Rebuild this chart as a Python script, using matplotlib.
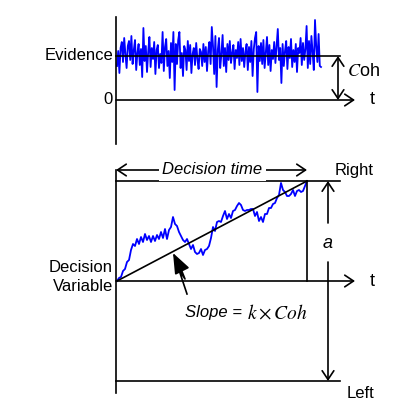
import matplotlib.pyplot as plt
import numpy as np

plt.rcParams['font.family'] = ['Liberation Sans', 'DejaVu Sans']
plt.rcParams['mathtext.fontset'] = 'stix'

# top panel: momentary evidence = coherence level + noise (arbitrary units)
coh = 44
evidence_dt = 1.2
evidence_noise = [
    -10, 5, -17, 8, 14, -6, 18, 2, -12, 10,
    15, -4, 20, -8, 6, 16, -14, 3, 12, -9,
    7, -21, 28, -5, 10, -16, 4, 19, -11, 8,
    -3, 14, -18, 6, 11, -12, 2, -7, 24, -15,
    9, 17, -10, 5, -22, 13, -6, 24, -34, 12,
    -8, 16, 24, -12, 3, -20, 10, 6, -14, 15,
    -5, 11, -17, 2, 8, -9, 13, -3, -13, 7,
    4, -10, 12, -6, 9, -15, 5, 14, -8, 29,
    10, -18, 20, -31, 6, 18, -12, 2, 21, -10,
    8, -16, 12, -4, 15, -7, 3, 11, -13, 6,
    -2, 14, -9, 17, -5, 8, -11, 4, 12, -14,
    9, -6, 15, -20, 7, 18, 24, -36, 10, -5,
    13, -8, 16, -12, 4, 19, -9, 11, -15, 6,
    -3, 14, -7, 10, 27, -4, 8, -27, 12, -10,
    5, 15, -13, 9, -2, 17, -11, 6, -6, 12,
    -16, 8, 3, 18, -9, 13, -4, 7, 30, -12,
    15, -8, 20, 4, -14, 36, 10, -6, 22, -10,
    -11,
]

# bottom panel: accumulated decision variable, bound a = 100
bound = 100
decision_time = 190
dv_dt = 2
decision_var = [
    0, 3, 4, 10, 12, 19, 21, 31, 37, 35,
    42, 37, 44, 39, 47, 41, 45, 39, 45, 40,
    46, 42, 49, 43, 52, 42, 51, 54, 64, 57,
    55, 49, 45, 41, 39, 42, 37, 32, 36, 29,
    27, 28, 32, 26, 31, 32, 35, 43, 54, 50,
    59, 60, 59, 65, 70, 62, 67, 63, 70, 71,
    75, 78, 76, 71, 70, 71, 71, 72, 72, 65,
    69, 60, 64, 59, 67, 67, 73, 73, 77, 78,
    83, 86, 98, 91, 89, 85, 85, 87, 91, 85,
    90, 91, 89, 90, 95, 100,
]

BLUE = '#0000ff'
LW = 1.2
fs = 12


def arrow(ax, start, end, style='->'):
    ax.annotate('', xy=end, xytext=start,
                arrowprops=dict(arrowstyle=style + ',head_length=0.45,head_width=0.3',
                                mutation_scale=14, lw=LW, color='k',
                                shrinkA=0, shrinkB=0))


fig = plt.figure(figsize=(4.2, 4.2), dpi=100)

# ---- top panel
ax1 = fig.add_axes([0, 270 / 420, 1, 150 / 420])
ax1.set_xlim(-117, 303)
ax1.set_ylim(-50, 100)
ax1.axis('off')

t_ev = np.arange(len(evidence_noise)) * evidence_dt
ax1.plot(t_ev, coh + np.array(evidence_noise), color=BLUE, lw=1.3, zorder=2)
ax1.plot([-1, -1], [-44, 83], color='k', lw=LW, zorder=3)
ax1.plot([-1, 223], [coh, coh], color='k', lw=LW, zorder=3)
arrow(ax1, (-1, 0), (238, 0))
arrow(ax1, (221, 0), (221, coh), '<->')
ax1.text(-4, coh, 'Evidence', ha='right', va='center', fontsize=fs)
ax1.text(-4, 0, '0', ha='right', va='center', fontsize=fs)
ax1.text(255, 0, 't', ha='center', va='center', fontsize=fs + 1)
ax1.text(230, 28, r'$C$oh', ha='left', va='center', fontsize=fs + 1)

# ---- bottom panel
ax2 = fig.add_axes([0, 0, 1, 270 / 420])
ax2.set_xlim(-117, 303)
ax2.set_ylim(-139, 131)
ax2.axis('off')

t_dv = np.arange(len(decision_var)) * dv_dt
ax2.plot(t_dv, decision_var, color=BLUE, lw=1.3, zorder=2)
ax2.plot([0, decision_time], [0, bound], color='k', lw=LW, zorder=3)

ax2.plot([-1, -1], [-112, 111], color='k', lw=LW)
ax2.plot([-1, 223], [bound, bound], color='k', lw=LW)
ax2.plot([-1, 223], [-bound, -bound], color='k', lw=LW)
ax2.plot([decision_time, decision_time], [0, bound], color='k', lw=LW)
arrow(ax2, (-1, 0), (238, 0))
ax2.text(255, 0, 't', ha='center', va='center', fontsize=fs + 1)

# decision time
arrow(ax2, (-1, 111), (decision_time, 111), '<->')
ax2.text(95.5, 111, 'Decision time', ha='center', va='center', fontsize=fs,
         fontstyle='italic', bbox=dict(boxstyle='square,pad=0.2', fc='white', ec='none'))

# bound height a
arrow(ax2, (211, 58), (211, bound))
arrow(ax2, (211, 19), (211, -bound))
ax2.text(211, 37, 'a', ha='center', va='center', fontsize=fs + 1, fontstyle='italic')

ax2.text(218, 111, 'Right', ha='left', va='center', fontsize=fs)
ax2.text(230, -112, 'Left', ha='left', va='center', fontsize=fs)
ax2.text(-4, 4, 'Decision\nVariable', ha='right', va='center', fontsize=fs,
         linespacing=1.35)

# slope annotation
ax2.plot([70, 62, 68, 60], [-13, 11, 2, 22], color='k', lw=LW)
ax2.annotate('', xy=(56, 28), xytext=(62, 16),
             arrowprops=dict(arrowstyle='-|>,head_length=0.9,head_width=0.35',
                             mutation_scale=14, lw=LW, color='k',
                             shrinkA=0, shrinkB=0))
ax2.text(68, -32, 'Slope = ', ha='left', va='center', fontsize=fs, fontstyle='italic')
ax2.text(130, -32, r'$k \times Coh$', ha='left', va='center', fontsize=fs + 2)

fig.savefig('out.png', dpi=100)
